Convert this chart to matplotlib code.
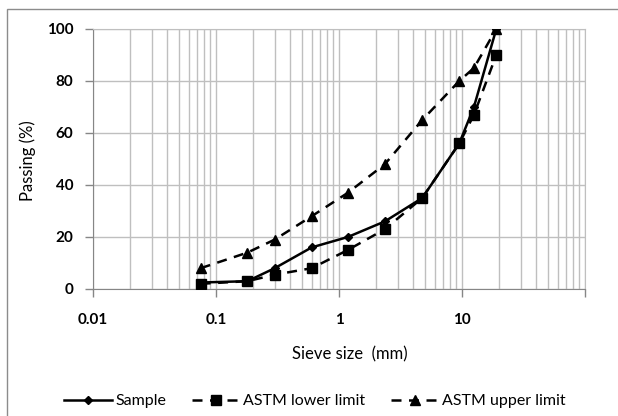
import matplotlib
matplotlib.use("Agg")
import matplotlib.pyplot as plt
from matplotlib.ticker import LogLocator, FixedLocator, NullFormatter
from matplotlib.patches import Rectangle

# sieve sizes (mm) and percent passing
sieve_mm = [0.075, 0.18, 0.3, 0.6, 1.18, 2.36, 4.75, 9.5, 12.5, 19]
sample = [2.5, 3, 8, 16, 20, 26, 35, 56, 70, 100]
astm_lower = [2, 3, 5.5, 8, 15, 23, 35, 56, 67, 90]
astm_upper = [8, 14, 19, 28, 37, 48, 65, 80, 85, 100]

x_ticks = [0.01, 0.1, 1, 10, 100]
x_tick_labels = ["0.01", "0.1", "1", "10", ""]
y_ticks = [0, 20, 40, 60, 80, 100]

plt.rcParams['font.family'] = ['Lato', 'DejaVu Sans']

fig = plt.figure(figsize=(6.18, 4.16), dpi=100)
ax = fig.add_axes([93/618, 1 - 289/416, (585 - 93)/618, (289 - 29)/416])

grid_col = '#bfbfbf'
axis_col = '#868686'

ax.plot(sieve_mm, sample, color='black', lw=1.8, marker='D', ms=4.5, label='Sample', zorder=5)
ax.plot(sieve_mm, astm_lower, color='black', lw=1.8, dashes=(4, 3), marker='s', ms=7,
        label='ASTM lower limit', zorder=4)
ax.plot(sieve_mm, astm_upper, color='black', lw=1.8, dashes=(4, 3), marker='^', ms=7,
        label='ASTM upper limit', zorder=4)

ax.set_xscale('log')
ax.set_xlim(0.01, 100)
ax.set_ylim(0, 100)

ax.xaxis.set_major_locator(FixedLocator(x_ticks))
ax.set_xticklabels(x_tick_labels)
ax.xaxis.set_minor_locator(LogLocator(base=10, subs=range(2, 10)))
ax.xaxis.set_minor_formatter(NullFormatter())
ax.set_yticks(y_ticks)

ax.grid(True, which='major', color=grid_col, lw=1.0)
ax.grid(True, which='minor', axis='x', color=grid_col, lw=1.0)
ax.set_axisbelow(True)

ax.tick_params(axis='x', which='major', length=6, width=1, color=axis_col, pad=11,
               labelsize=11)
ax.tick_params(axis='x', which='minor', length=0)
ax.tick_params(axis='y', length=6, width=1, color=axis_col, pad=8, labelsize=11)
for lab in ax.get_xticklabels() + ax.get_yticklabels():
    lab.set_fontweight('bold')

for side in ['left', 'bottom']:
    ax.spines[side].set_color(axis_col)
for side in ['top', 'right']:
    ax.spines[side].set_color(grid_col)

fig.text(350/618, 1 - 354/416, 'Sieve size  (mm)', ha='center', va='center', fontsize=12)
fig.text(28/618, 1 - 161/416, 'Passing (%)', ha='center', va='center', rotation=90,
         fontsize=12)

fig.legend(loc='center', bbox_to_anchor=(315/618, 1 - 401/416), ncol=3, frameon=False,
           fontsize=11.5, handlelength=3.0, handletextpad=0.2, columnspacing=1.6)

# chart area border
fig.patches.append(Rectangle((7/618, -0.1), 1.2, 1 - 9/416 + 0.1, transform=fig.transFigure,
                             fill=False, edgecolor='#8c8c8c', lw=1.0))

fig.savefig('out.png', dpi=100)
